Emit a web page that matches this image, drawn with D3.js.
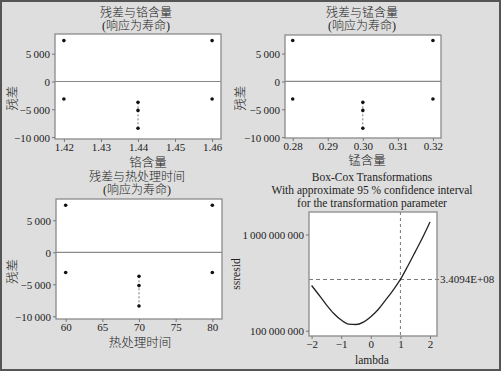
<!DOCTYPE html>
<html>
<head>
<meta charset="utf-8">
<script src="https://cdn.jsdelivr.net/npm/d3@7"></script>
<style>
  body { margin: 0; background: #dcdcdc; }
  text { font-family: "Liberation Serif", "Noto Sans CJK SC", serif; fill: #222; }
  .cjk { font-weight: 300; }
</style>
</head>
<body>
<div id="chart"></div>
<script>
// residuals vs factor levels (same runs in each panel)
var residuals = [7350, -3150, -3750, -5200, -8400, 7350, -3150];
var crLevels = [1.42, 1.42, 1.44, 1.44, 1.44, 1.46, 1.46];
var mnLevels = [0.28, 0.28, 0.30, 0.30, 0.30, 0.32, 0.32];
var timeLevels = [60, 60, 70, 70, 70, 80, 80];
var residTicks = [5000, 0, -5000, -10000];
var crTicks = [1.42, 1.43, 1.44, 1.45, 1.46];
var mnTicks = [0.28, 0.29, 0.30, 0.31, 0.32];
var timeTicks = [60, 65, 70, 75, 80];

// Box-Cox curve
var lambdas = [-2, -1.75, -1.5, -1.25, -1, -0.75, -0.5, -0.25, 0, 0.25, 0.5, 0.75, 1, 1.25, 1.5, 1.75, 2];
var ssresid = [2.95e8, 2.35e8, 1.86e8, 1.51e8, 1.29e8, 1.17e8, 1.16e8, 1.23e8, 1.40e8, 1.66e8, 2.08e8, 2.63e8, 3.41e8, 4.7e8, 6.6e8, 9.3e8, 1.35e9];
var lambdaTicks = [-2, -1, 0, 1, 2];
var ssTicks = [1e8, 1e9];
var ssLimit = 3.4094e8;
var lambdaEst = 1;

var W = 501, H = 371;
var svg = d3.select("#chart").append("svg")
  .attr("width", W)
  .attr("height", H);

svg.append("rect")
  .attr("x", 1).attr("y", 1)
  .attr("width", W - 2).attr("height", H - 2)
  .attr("fill", "#dedede")
  .attr("stroke", "#555")
  .attr("stroke-width", 2);

var numFmt = function(d) {
  return d3.format(",")(d).replace(/,/g, "\u2009");
};

function frame(box) {
  svg.append("rect")
    .attr("x", box.x0).attr("y", box.y0)
    .attr("width", box.x1 - box.x0).attr("height", box.y1 - box.y0)
    .attr("fill", "#fff");
}

function border(box) {
  svg.append("rect")
    .attr("x", box.x0).attr("y", box.y0)
    .attr("width", box.x1 - box.x0).attr("height", box.y1 - box.y0)
    .attr("fill", "none")
    .attr("stroke", "#8a8a8a")
    .attr("stroke-width", 1.3);
}

function drawAxes(box, x, y, xTicks, yTicks, xFmt, yFmt) {
  var xAxis = svg.append("g")
    .attr("transform", `translate(0, ${box.y1})`)
    .call(d3.axisBottom(x).tickValues(xTicks).tickFormat(xFmt).tickSize(3).tickPadding(1));
  var yAxis = svg.append("g")
    .attr("transform", `translate(${box.x0}, 0)`)
    .call(d3.axisLeft(y).tickValues(yTicks).tickFormat(yFmt).tickSize(3).tickPadding(2));
  [xAxis, yAxis].forEach(function(g) {
    g.attr("font-family", null).attr("font-size", null);
    g.select(".domain").remove();
    g.selectAll("line").attr("stroke", "#777");
    g.selectAll("text")
      .style("font-family", "'Liberation Serif', serif")
      .style("font-size", "11px")
      .attr("fill", "#222");
  });
  yAxis.selectAll("text").attr("dy", "0.36em");
}

function titleLines(lines, cx, y0, step, size, cls) {
  lines.forEach(function(t, i) {
    svg.append("text")
      .attr("class", cls || null)
      .attr("x", cx).attr("y", y0 + i * step)
      .attr("text-anchor", "middle")
      .style("font-size", size + "px")
      .text(t);
  });
}

function residPanel(p) {
  var box = p.box;
  var x = d3.scaleLinear().domain(p.xDomain).range([box.x0, box.x1]);
  var y = d3.scaleLinear().domain(p.yDomain).range([box.y1, box.y0]);
  frame(box);

  // zero reference line
  svg.append("line")
    .attr("x1", box.x0).attr("x2", box.x1)
    .attr("y1", y(0)).attr("y2", y(0))
    .attr("stroke", "#8a8a8a").attr("stroke-width", 1.2);

  // dashed link through the centre-level points
  var midRes = residuals.filter(function(d, i) { return p.levels[i] === p.centre; });
  svg.append("line")
    .attr("x1", x(p.centre)).attr("x2", x(p.centre))
    .attr("y1", y(d3.max(midRes))).attr("y2", y(d3.min(midRes)))
    .attr("stroke", "#777").attr("stroke-width", 1)
    .attr("stroke-dasharray", "2,2");

  svg.append("g").selectAll("circle")
    .data(residuals)
    .enter()
    .append("circle")
    .attr("cx", function(d, i) { return x(p.levels[i]); })
    .attr("cy", function(d) { return y(d); })
    .attr("r", 1.8)
    .attr("fill", "#111");

  border(box);
  drawAxes(box, x, y, p.xTicks, residTicks, p.xFmt, numFmt);

  titleLines([p.title, "(响应为寿命)"], p.tx, p.ty, 12.5, 12, "cjk");

  svg.append("text")
    .attr("class", "cjk")
    .attr("x", (box.x0 + box.x1) / 2 + p.xlOff).attr("y", p.xly)
    .attr("text-anchor", "middle")
    .style("font-size", "12.5px")
    .text(p.xLabel);

  svg.append("text")
    .attr("class", "cjk")
    .attr("transform", `translate(${p.ylx}, ${y(-3000)}) rotate(-90)`)
    .attr("text-anchor", "middle")
    .style("font-size", "12.5px")
    .text("残差");
}

residPanel({
  box: {x0: 55, x1: 221, y0: 34, y1: 139},
  xDomain: [1.4176, 1.4624], yDomain: [-10340, 8540],
  levels: crLevels, centre: 1.44, xTicks: crTicks, xFmt: d3.format(".2f"),
  title: "残差与铬含量", tx: 136, ty: 17,
  xLabel: "铬含量", xlOff: 10, xly: 167, ylx: 17
});

residPanel({
  box: {x0: 285, x1: 441, y0: 35, y1: 138},
  xDomain: [0.2778, 0.3223], yDomain: [-10150, 8330],
  levels: mnLevels, centre: 0.30, xTicks: mnTicks, xFmt: d3.format(".2f"),
  title: "残差与锰含量", tx: 362, ty: 17,
  xLabel: "锰含量", xlOff: 4, xly: 165, ylx: 245
});

residPanel({
  box: {x0: 56, x1: 222, y0: 199, y1: 319},
  xDomain: [58.68, 81.32], yDomain: [-10420, 8330],
  levels: timeLevels, centre: 70, xTicks: timeTicks, xFmt: d3.format("d"),
  title: "残差与热处理时间", tx: 137, ty: 181,
  xLabel: "热处理时间", xlOff: 1, xly: 347, ylx: 17
});

// Box-Cox panel
(function() {
  var box = {x0: 309, x1: 437, y0: 212, y1: 336};
  var x = d3.scaleLinear().domain([-2.088, 2.236]).range([box.x0, box.x1]);
  var y = d3.scaleLog().domain([Math.pow(10, 7.945), Math.pow(10, 9.234)]).range([box.y1, box.y0]);
  frame(box);

  var line = d3.line()
    .x(function(d, i) { return x(lambdas[i]); })
    .y(function(d) { return y(d); })
    .curve(d3.curveMonotoneX);

  svg.append("line")
    .attr("x1", box.x0).attr("x2", box.x1 + 3)
    .attr("y1", y(ssLimit)).attr("y2", y(ssLimit))
    .attr("stroke", "#777").attr("stroke-dasharray", "4,3");
  svg.append("line")
    .attr("x1", x(lambdaEst)).attr("x2", x(lambdaEst))
    .attr("y1", box.y0).attr("y2", box.y1)
    .attr("stroke", "#777").attr("stroke-dasharray", "3,3");

  svg.append("path")
    .datum(ssresid)
    .attr("d", line)
    .attr("fill", "none")
    .attr("stroke", "#222")
    .attr("stroke-width", 1.3);

  border(box);
  drawAxes(box, x, y, lambdaTicks, ssTicks, d3.format("d"), numFmt);

  svg.append("text")
    .attr("x", box.x1 + 3).attr("y", y(ssLimit))
    .attr("dy", "0.36em")
    .style("font-size", "11px")
    .text(ssLimit.toExponential(4).toUpperCase().replace("E+", "E+0"));

  titleLines(["Box-Cox Transformations",
              "With approximate 95 % confidence interval",
              "for the transformation parameter"], 372, 181, 13, 11.5);

  svg.append("text")
    .attr("x", 372).attr("y", 364)
    .attr("text-anchor", "middle")
    .style("font-size", "11.5px")
    .text("lambda");

  svg.append("text")
    .attr("transform", `translate(240, ${(box.y0 + box.y1) / 2}) rotate(-90)`)
    .attr("text-anchor", "middle")
    .style("font-size", "11.5px")
    .text("ssresid");
})();
</script>
</body>
</html>
